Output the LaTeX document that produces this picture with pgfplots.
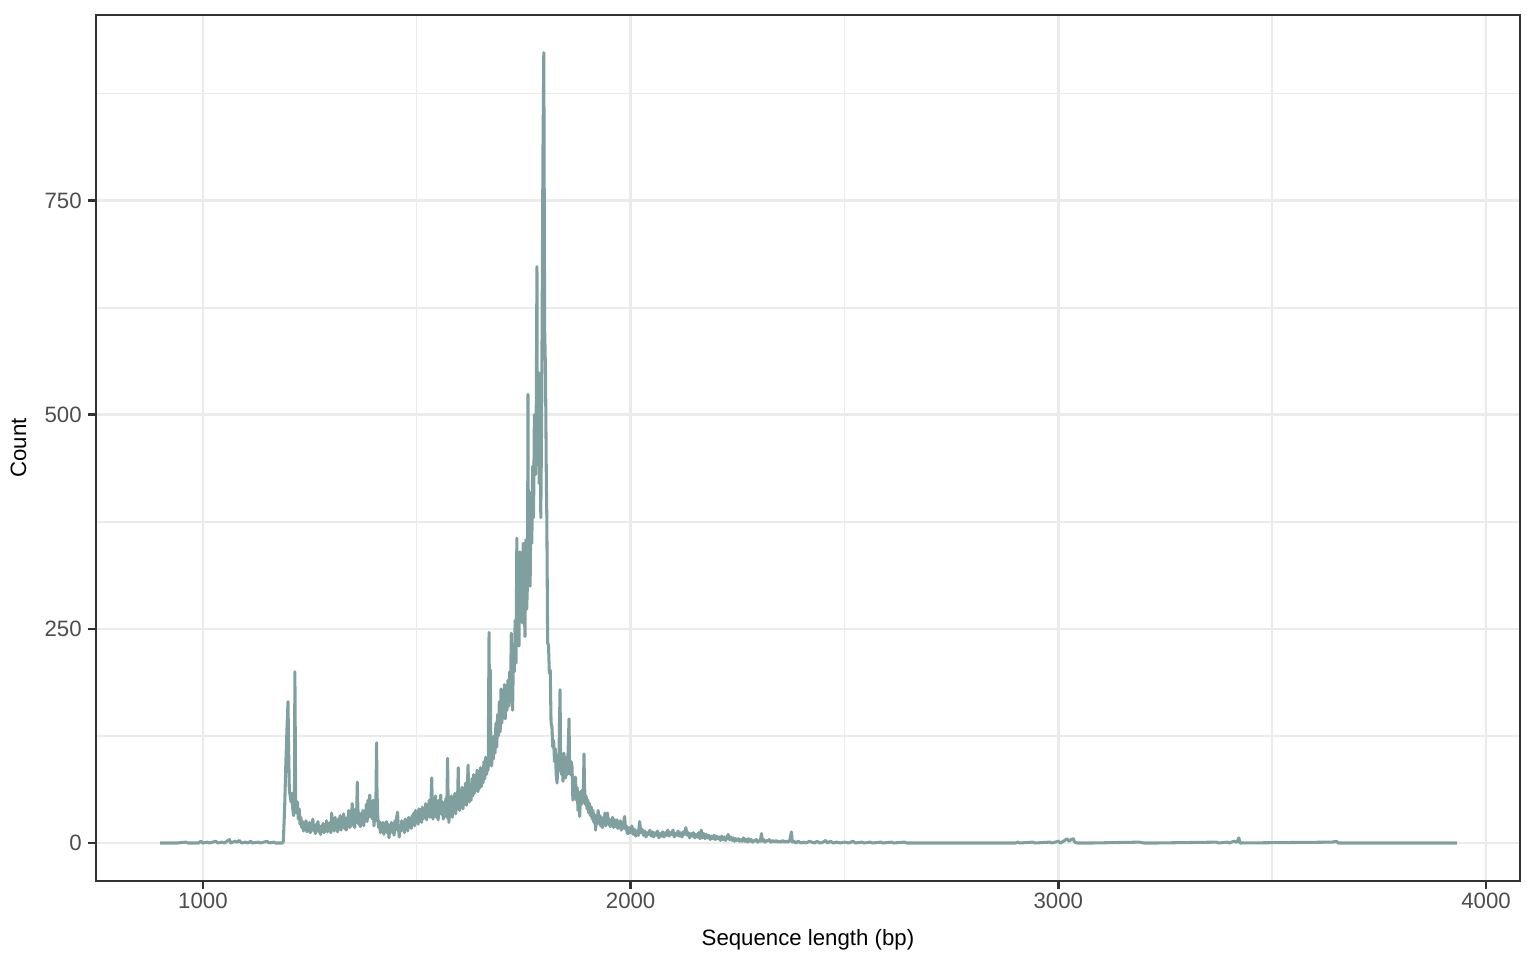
\documentclass[border=0pt]{standalone}
\usepackage{fontspec}
\setmainfont{Liberation Sans}
\usepackage{pgfplots}
\usepackage{pgfplotstable}
\pgfplotsset{compat=1.18}
\definecolor{gray20}{HTML}{333333}
\definecolor{gray30}{HTML}{4D4D4D}
\definecolor{gray92}{HTML}{EBEBEB}
\definecolor{linecol}{RGB}{127,160,159}
\pgfplotstableread[row sep=\\]{
x y\\
900 0\\ 940 0\\ 960 1\\ 965 0\\ 990 0\\ 995 2\\ 1000 0\\ 1010 1\\ 1015 0\\ 1030 2\\ 1035 0\\ 1045 1\\ 1050 0\\ 1062 4\\ 1065 0\\ 1075 2\\ 1080 1\\ 1085 3\\ 1090 0\\ 1100 1\\ 1105 0\\ 1112 2\\ 1115 0\\ 1130 1\\ 1135 0\\ 1150 2\\ 1155 0\\ 1165 1\\ 1170 0\\ 1186 0\\
1188 2\\ 1191 40\\ 1194 95\\ 1197 140\\ 1199 165\\ 1200 120\\ 1202 62\\ 1204 55\\ 1206 48\\ 1208 58\\ 1210 40\\ 1212 32\\ 1214 45\\ 1215 200\\ 1216 120\\ 1217 42\\ 1219 35\\ 1221 48\\ 1223 28\\ 1225 40\\ 1227 22\\ 1229 30\\ 1231 18\\ 1233 25\\ 1235 14\\ 1237 22\\ 1239 17\\ 1241 26\\ 1243 13\\ 1245 20\\ 1247 16\\ 1249 24\\ 1251 12\\ 1253 21\\ 1255 15\\ 1257 28\\ 1259 14\\ 1261 19\\ 1263 11\\ 1265 22\\ 1267 16\\ 1269 25\\ 1271 13\\ 1273 18\\ 1275 10\\ 1277 20\\ 1279 15\\ 1281 23\\ 1283 12\\ 1285 19\\ 1287 14\\ 1289 26\\ 1291 13\\ 1293 21\\ 1295 16\\ 1297 24\\ 1299 12\\
1301 35\\ 1303 15\\ 1305 22\\ 1307 14\\ 1309 30\\ 1311 17\\ 1313 25\\ 1315 13\\ 1317 28\\ 1319 18\\ 1321 32\\ 1323 15\\ 1325 26\\ 1327 20\\ 1329 34\\ 1331 17\\ 1333 27\\ 1335 15\\ 1337 30\\ 1339 22\\ 1341 38\\ 1343 18\\ 1345 28\\ 1347 20\\ 1349 46\\ 1351 25\\ 1353 32\\ 1355 18\\ 1357 40\\ 1359 24\\ 1361 71\\ 1362 45\\ 1364 22\\ 1366 35\\ 1368 19\\ 1370 30\\ 1372 24\\ 1374 38\\ 1376 20\\ 1378 33\\ 1380 28\\ 1382 45\\ 1384 25\\ 1386 50\\ 1388 30\\ 1390 56\\ 1392 32\\ 1394 42\\ 1396 28\\ 1398 50\\ 1400 20\\
1402 35\\ 1404 26\\ 1406 117\\ 1407 60\\ 1409 28\\ 1411 18\\ 1413 25\\ 1415 12\\ 1417 22\\ 1419 15\\ 1421 24\\ 1423 10\\ 1425 20\\ 1427 16\\ 1429 25\\ 1431 12\\ 1433 22\\ 1435 6\\ 1437 18\\ 1439 14\\ 1441 24\\ 1443 12\\ 1445 20\\ 1447 9\\ 1449 26\\ 1451 15\\ 1453 30\\ 1455 36\\ 1457 18\\ 1459 7\\ 1461 20\\ 1463 14\\ 1465 26\\ 1467 16\\ 1469 22\\ 1471 12\\ 1473 28\\ 1475 18\\ 1477 24\\ 1479 14\\ 1481 30\\ 1483 20\\ 1485 27\\ 1487 17\\ 1489 32\\ 1491 22\\ 1493 35\\ 1495 20\\ 1497 38\\ 1499 24\\
1501 33\\ 1503 22\\ 1505 40\\ 1507 26\\ 1509 36\\ 1511 24\\ 1513 42\\ 1515 28\\ 1517 38\\ 1519 30\\ 1521 46\\ 1523 27\\ 1525 40\\ 1527 32\\ 1529 50\\ 1531 30\\ 1533 45\\ 1535 76\\ 1536 50\\ 1538 28\\ 1540 42\\ 1542 35\\ 1544 55\\ 1546 30\\ 1548 45\\ 1550 27\\ 1552 50\\ 1554 38\\ 1556 56\\ 1558 33\\ 1560 48\\ 1562 28\\ 1564 45\\ 1566 35\\ 1568 52\\ 1570 30\\ 1572 99\\ 1573 60\\ 1575 24\\ 1577 40\\ 1579 32\\ 1581 55\\ 1583 30\\ 1585 48\\ 1587 36\\ 1589 58\\ 1591 34\\ 1593 50\\ 1595 40\\ 1597 88\\ 1598 55\\
1600 38\\ 1602 60\\ 1604 42\\ 1606 65\\ 1608 40\\ 1610 58\\ 1612 45\\ 1614 70\\ 1616 44\\ 1618 62\\ 1620 91\\ 1621 60\\ 1623 48\\ 1625 68\\ 1627 50\\ 1629 75\\ 1631 55\\ 1633 80\\ 1635 58\\ 1637 72\\ 1639 62\\ 1641 85\\ 1643 60\\ 1645 78\\ 1647 64\\ 1649 88\\ 1651 66\\ 1653 82\\ 1655 70\\ 1657 95\\ 1659 75\\ 1661 100\\ 1663 80\\ 1665 92\\ 1667 85\\ 1669 246\\ 1670 150\\ 1672 202\\ 1673 120\\ 1675 90\\ 1677 110\\ 1679 98\\ 1681 125\\ 1683 105\\ 1685 140\\ 1687 112\\ 1689 150\\ 1691 125\\ 1693 165\\ 1695 130\\ 1697 180\\ 1699 140\\
1701 172\\ 1703 150\\ 1705 185\\ 1707 145\\ 1709 178\\ 1711 155\\ 1713 190\\ 1715 160\\ 1717 200\\ 1719 165\\ 1721 245\\ 1722 180\\ 1724 155\\ 1726 220\\ 1728 200\\ 1730 260\\ 1732 210\\ 1734 356\\ 1735 250\\ 1737 300\\ 1739 230\\ 1741 340\\ 1743 270\\ 1745 323\\ 1747 257\\ 1749 350\\ 1751 290\\ 1753 241\\ 1755 354\\ 1757 273\\ 1759 307\\ 1760 524\\ 1761 330\\ 1763 410\\ 1765 300\\ 1767 400\\ 1769 350\\ 1771 440\\ 1773 380\\ 1775 500\\ 1777 430\\ 1779 470\\ 1781 673\\ 1782 450\\ 1784 550\\ 1786 420\\ 1788 548\\ 1790 380\\ 1792 500\\ 1795 804\\ 1797 923\\ 1799 600\\
1801 550\\ 1803 420\\ 1804 383\\ 1806 234\\ 1808 231\\ 1810 198\\ 1812 202\\ 1814 140\\ 1816 136\\ 1818 112\\ 1820 120\\ 1822 95\\ 1824 110\\ 1826 80\\ 1828 70\\ 1830 95\\ 1832 85\\ 1835 179\\ 1836 110\\ 1838 80\\ 1840 95\\ 1842 72\\ 1844 105\\ 1846 85\\ 1848 76\\ 1850 100\\ 1852 80\\ 1854 110\\ 1856 145\\ 1857 100\\ 1859 80\\ 1861 95\\ 1863 89\\ 1865 50\\ 1867 70\\ 1869 60\\ 1871 77\\ 1873 50\\ 1875 65\\ 1877 38\\ 1879 55\\ 1881 31\\ 1883 60\\ 1885 45\\ 1887 62\\ 1889 48\\ 1891 104\\ 1892 70\\ 1894 45\\ 1896 55\\ 1898 40\\
1900 50\\ 1902 35\\ 1904 46\\ 1906 32\\ 1908 42\\ 1910 28\\ 1912 38\\ 1914 24\\ 1916 33\\ 1918 15\\ 1920 30\\ 1922 22\\ 1924 38\\ 1926 25\\ 1928 32\\ 1930 20\\ 1932 30\\ 1934 18\\ 1936 28\\ 1938 22\\ 1940 35\\ 1942 20\\ 1944 30\\ 1946 35\\ 1948 22\\ 1950 28\\ 1952 19\\ 1954 26\\ 1956 20\\ 1958 30\\ 1960 18\\ 1962 27\\ 1964 19\\ 1966 26\\ 1968 27\\ 1970 17\\ 1972 24\\ 1974 18\\ 1976 26\\ 1978 15\\ 1980 22\\ 1982 17\\ 1984 25\\ 1986 31\\ 1988 16\\ 1990 20\\ 1992 12\\ 1994 11\\ 1996 18\\ 1998 14\\
2000 12\\ 2003 20\\ 2006 10\\ 2009 16\\ 2012 8\\ 2015 14\\ 2018 9\\ 2021 25\\ 2024 12\\ 2027 16\\ 2030 9\\ 2033 14\\ 2036 7\\ 2039 12\\ 2042 10\\ 2045 15\\ 2048 8\\ 2051 13\\ 2054 7\\ 2057 12\\ 2060 9\\ 2063 14\\ 2066 6\\ 2069 11\\ 2072 8\\ 2075 13\\ 2078 7\\ 2081 12\\ 2084 9\\ 2087 15\\ 2090 8\\ 2093 12\\ 2096 10\\ 2099 15\\ 2102 7\\ 2105 11\\ 2108 9\\ 2111 14\\ 2114 8\\ 2117 12\\ 2120 7\\ 2123 13\\ 2126 10\\ 2129 18\\ 2132 9\\ 2135 12\\ 2138 6\\ 2141 11\\ 2144 8\\ 2147 12\\ 2150 6\\
2153 10\\ 2156 7\\ 2159 12\\ 2162 5\\ 2165 15\\ 2168 6\\ 2171 11\\ 2174 5\\ 2177 10\\ 2180 6\\ 2183 9\\ 2186 4\\ 2189 8\\ 2192 5\\ 2195 9\\ 2198 4\\ 2201 8\\ 2204 5\\ 2207 7\\ 2210 3\\ 2213 8\\ 2216 4\\ 2219 7\\ 2222 3\\ 2225 6\\ 2228 10\\ 2231 4\\ 2234 7\\ 2237 3\\ 2240 6\\ 2243 2\\ 2246 5\\ 2249 3\\ 2252 5\\ 2255 2\\ 2258 4\\ 2261 2\\ 2264 6\\ 2267 2\\ 2270 4\\ 2273 1\\ 2276 5\\ 2279 2\\ 2282 4\\ 2285 1\\ 2288 3\\ 2291 2\\ 2294 4\\ 2297 1\\ 2300 3\\
2303 2\\ 2306 11\\ 2308 2\\ 2311 4\\ 2314 1\\ 2317 3\\ 2320 2\\ 2324 4\\ 2328 1\\ 2332 3\\ 2336 1\\ 2340 3\\ 2344 1\\ 2348 2\\ 2352 1\\ 2356 3\\ 2360 1\\ 2364 2\\ 2368 1\\ 2372 3\\ 2376 13\\ 2378 1\\ 2382 2\\ 2386 0\\ 2392 2\\ 2398 0\\ 2405 1\\ 2410 0\\ 2418 2\\ 2424 1\\ 2430 0\\ 2436 2\\ 2442 0\\ 2450 1\\ 2456 3\\ 2460 0\\ 2468 2\\ 2474 0\\ 2482 1\\ 2490 0\\ 2500 1\\ 2510 0\\ 2520 2\\ 2526 0\\ 2540 1\\ 2546 0\\ 2560 1\\ 2566 0\\ 2585 1\\ 2590 0\\ 2610 1\\ 2615 0\\ 2640 1\\ 2645 0\\
2900 0\\ 2905 1\\ 2910 0\\ 2940 1\\ 2945 0\\ 2980 1\\ 2985 0\\ 3000 2\\ 3005 0\\ 3015 3\\ 3020 5\\ 3025 2\\ 3030 4\\ 3035 5\\ 3038 1\\ 3045 0\\ 3080 0\\ 3190 1\\ 3200 0\\ 3230 0\\ 3370 1\\ 3375 0\\ 3395 1\\ 3400 0\\ 3410 2\\ 3418 1\\ 3422 6\\ 3425 0\\ 3640 1\\ 3650 2\\ 3655 0\\ 3932 0\\
}\seqdata
\begin{document}
\begin{tikzpicture}
\useasboundingbox (-34.56pt,-28.44pt) rectangle (518.4pt,317.16pt);
\begin{axis}[
  at={(0,0)}, anchor=south west,
  scale only axis,
  width=512.64pt, height=311.76pt,
  xmin=750, xmax=4079.5,
  ymin=-44.4, ymax=967,
  xtick={1000,2000,3000,4000},
  ytick={0,250,500,750},
  minor xtick={1500,2500,3500},
  minor ytick={125,375,625,875},
  scaled ticks=false,
  /pgf/number format/1000 sep={},
  /pgf/number format/assume math mode=true,
  tick align=outside,
  major tick length=2.75pt,
  minor tick length=0pt,
  xtick pos=bottom, ytick pos=left,
  every tick/.style={draw=gray20, line width=1pt},
  grid=both,
  major grid style={draw=gray92, line width=1pt},
  minor grid style={draw=gray92, line width=0.5pt},
  axis line style={draw=gray20, line width=0.8pt},
  tick label style={font=\fontsize{8}{9.6}\selectfont, text=gray30, inner sep=0pt},
  xticklabel style={anchor=north, yshift=-1.5pt},
  yticklabel style={anchor=east, xshift=-2.2pt},
]
\addplot[draw=linecol, line width=1.1pt, line join=round] table[x=x, y=y] {\seqdata};
\end{axis}
\node[anchor=base, inner sep=0pt, font=\fontsize{8}{9.6}\selectfont] at (256.3pt,-23.04pt) {Sequence length (bp)};
\node[rotate=90, anchor=base, inner sep=0pt, font=\fontsize{8}{9.6}\selectfont] at (-25.2pt,155.88pt) {Count};
\end{tikzpicture}
\end{document}
